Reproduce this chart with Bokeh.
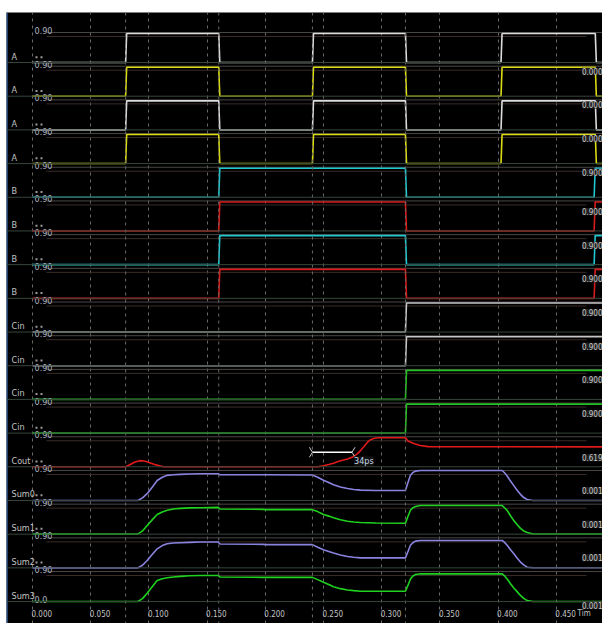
import numpy as np
from bokeh.plotting import figure
from bokeh.models import Range1d, Span, FixedTicker, Grid
from bokeh.core.properties import value
from bokeh.embed import file_html
from bokeh.resources import INLINE

# ---------------- data ----------------
row_names = ["A", "A", "A", "A", "B", "B", "B", "B",
             "Cin", "Cin", "Cin", "Cin", "Cout", "Sum0", "Sum1", "Sum2", "Sum3"]
row_colors = ["#dcdcdc", "#dcdc12", "#dcdcdc", "#dcdc12",
              "#20c8d0", "#d81c1c", "#20c8d0", "#d81c1c",
              "#c6c6c6", "#c6c6c6", "#22c022", "#22c022",
              "#e01a1a", "#8a84e0", "#1ed21e", "#8a84e0", "#1ed21e"]

v_high = 0.9
# digital stimulus toggle times (ns); every input starts at 0 V
a_edges = [0.080, 0.160, 0.2405, 0.3204, 0.4025, 0.4835]
b_edges = [0.160, 0.3204, 0.4825]
cin_edges = [0.3204]

# carry out
cout_t = [0.000, 0.080, 0.084, 0.088, 0.092, 0.096, 0.100, 0.105, 0.110, 0.113,
          0.245, 0.250, 0.2545, 0.2586, 0.263, 0.2706, 0.275, 0.279, 0.282,
          0.285, 0.288, 0.2905, 0.293, 0.297, 0.3204, 0.3225, 0.327, 0.333,
          0.340, 0.490]
cout_v = [0.000, 0.000, 0.07, 0.15, 0.19, 0.18, 0.13, 0.07, 0.02, 0.000,
          0.000, 0.03, 0.07, 0.11, 0.17, 0.24, 0.30, 0.40, 0.51,
          0.64, 0.77, 0.84, 0.88, 0.90, 0.90, 0.80, 0.73, 0.66,
          0.625, 0.619]

# sum outputs share one time base
sum_t = [0.000, 0.0905, 0.0945, 0.0985, 0.1030, 0.1071, 0.1115, 0.1157, 0.1210,
         0.1271, 0.1350, 0.1443, 0.1595, 0.1610, 0.1985, 0.2000, 0.2405, 0.2450,
         0.2500, 0.2545, 0.2586, 0.2645, 0.2706, 0.2760, 0.2818, 0.2950, 0.3204,
         0.3225, 0.3247, 0.3268, 0.3290, 0.3333, 0.4035, 0.4055, 0.4078, 0.4105,
         0.4135, 0.4165, 0.4192, 0.4220, 0.4250, 0.4300, 0.4900]
sum0_v = [0, 0, 0.08, 0.21, 0.42, 0.62, 0.72, 0.78, 0.80,
          0.81, 0.82, 0.83, 0.83, 0.80, 0.80, 0.80, 0.79, 0.72,
          0.63, 0.56, 0.49, 0.42, 0.37, 0.34, 0.32, 0.31, 0.31,
          0.55, 0.78, 0.87, 0.91, 0.93, 0.93, 0.86, 0.76, 0.61,
          0.46, 0.31, 0.19, 0.09, 0.03, 0.001, 0.001]
sum1_v = [0, 0, 0.10, 0.27, 0.45, 0.61, 0.69, 0.74, 0.78,
          0.80, 0.815, 0.82, 0.83, 0.78, 0.77, 0.76, 0.76, 0.70,
          0.61, 0.56, 0.51, 0.45, 0.40, 0.375, 0.36, 0.345, 0.34,
          0.55, 0.74, 0.82, 0.86, 0.89, 0.89, 0.82, 0.74, 0.58,
          0.42, 0.29, 0.18, 0.10, 0.05, 0.001, 0.001]
sum2_v = [0, 0, 0.08, 0.23, 0.42, 0.59, 0.69, 0.75, 0.77,
          0.78, 0.79, 0.80, 0.80, 0.74, 0.73, 0.72, 0.72, 0.64,
          0.56, 0.51, 0.46, 0.40, 0.35, 0.33, 0.31, 0.31, 0.31,
          0.50, 0.70, 0.78, 0.83, 0.85, 0.85, 0.79, 0.70, 0.57,
          0.44, 0.30, 0.18, 0.09, 0.02, 0.001, 0.001]
sum3_v = [0, 0, 0.09, 0.26, 0.47, 0.65, 0.71, 0.74, 0.76,
          0.78, 0.80, 0.81, 0.81, 0.76, 0.75, 0.75, 0.75, 0.68,
          0.60, 0.53, 0.46, 0.40, 0.36, 0.34, 0.32, 0.32, 0.32,
          0.50, 0.70, 0.79, 0.84, 0.86, 0.86, 0.80, 0.70, 0.56,
          0.42, 0.30, 0.19, 0.10, 0.03, 0.001, 0.001]

# delay measurement on Cout (ns)
meas_start, meas_len = 0.2405, 0.034
meas_label = "34ps"

x_ticks = [0.000, 0.050, 0.100, 0.150, 0.200, 0.250, 0.300, 0.350, 0.400, 0.450]
x_tick_labels = ["0.000", "0.050", "0.100", "0.150", "0.200",
                 "0.250", "0.300", "0.350", "0.400", "0.450"]
cursor_times = [0.080, 0.160, 0.2405, 0.3204]
t_end = 0.490

# ---------------- layout constants ----------------
W, H = 602, 623
LEFT, TOP = 6, 12
PX_T0 = 32.0            # screen x of t = 0
PX_PER_NS = 1164.0
ROW0_PX = 62.0          # screen y of first baseline
ROW_PITCH_PX = 33.69
VOLT_PX = 29.0 / 0.9    # screen px per volt
ROW = ROW_PITCH_PX / VOLT_PX


def dx(px):
    return px / PX_PER_NS


def dy(px):
    return px / VOLT_PX


def step_wave(edges, t_stop, high=v_high, rise=0.0009):
    t, v, level = [0.0], [0.0], 0.0
    for e in edges:
        t += [e, e + rise]
        v += [level, high - level]
        level = high - level
    t.append(t_stop)
    v.append(level)
    return t, v


traces = ([step_wave(a_edges, t_end) for _ in range(4)]
          + [step_wave(b_edges, t_end) for _ in range(4)]
          + [step_wave(cin_edges, t_end) for _ in range(4)]
          + [(cout_t, cout_v), (sum_t, sum0_v), (sum_t, sum1_v),
             (sum_t, sum2_v), (sum_t, sum3_v)])

x0 = (LEFT - PX_T0) / PX_PER_NS
x1 = (W - PX_T0) / PX_PER_NS
p = figure(width=W, height=H,
           x_range=Range1d(x0, x1),
           y_range=Range1d(-(H - ROW0_PX) / VOLT_PX, (ROW0_PX - TOP) / VOLT_PX),
           min_border_left=LEFT, min_border_top=TOP, min_border_right=0,
           min_border_bottom=0, x_axis_location=None, y_axis_location=None,
           toolbar_location=None, output_backend="svg",
           background_fill_color="black", border_fill_color="white",
           outline_line_color=None)
p.grid.visible = False

grid_style = dict(line_color="#6a6a6a", line_dash="3 4", line_width=1)
p.add_layout(Grid(dimension=0, ticker=FixedTicker(ticks=x_ticks),
                  grid_line_color="#6a6a6a", grid_line_dash="3 4"))
for c in cursor_times:
    p.add_layout(Span(location=c, dimension="height", **grid_style))

# left window edge
p.add_layout(Span(location=0.5, location_units="screen", dimension="height",
                  line_color="#2a5a9a", line_width=1.5))

FONT = value("DejaVu Sans Condensed, Liberation Sans, sans-serif")
FS = "9px"
n = len(row_names)
bases = [-k * ROW for k in range(n)]

# row baselines and high-level references
for k, b in enumerate(bases):
    p.add_layout(Span(location=b, dimension="width", line_color="#36463a", line_width=1))
p.segment(x0=[dx(46 - PX_T0)] * n, x1=[x1] * n,
          y0=[b + v_high + dy(1) for b in bases], y1=[b + v_high + dy(1) for b in bases],
          line_color="#4a4646", line_width=1)
p.segment(x0=[dx(46 - PX_T0)] * n, x1=[dx(586 - PX_T0)] * n,
          y0=[b + dy(26) for b in bases], y1=[b + dy(26) for b in bases],
          line_color="#3a2c28", line_width=1)

# waveforms
for k, ((t, v), col) in enumerate(zip(traces, row_colors)):
    p.line(x=t, y=[bases[k] + vv for vv in v], line_color=col, line_width=1.6)

# delay measurement marker on Cout
cb = bases[row_names.index("Cout")]
my = cb + v_high / 2
m0, m1 = meas_start, meas_start + meas_len
p.segment(x0=[m0], x1=[m1], y0=[my], y1=[my], line_color="white", line_width=1.5)
p.multi_line(xs=[[m0 - dx(3), m0, m0 - dx(3)], [m1 + dx(3), m1, m1 + dx(3)]],
             ys=[[my + dy(5), my, my - dy(5)], [my + dy(5), my, my - dy(5)]],
             line_color="#cfcfcf", line_width=1)
p.text(x=[m1 + dx(2)], y=[my - dy(9)], text=[meas_label], text_font=FONT,
       text_font_size=FS, text_color="#c8d8e8", text_align="left",
       text_baseline="middle", background_fill_color="#111111")

# signal names
p.text(x=[dx(11 - PX_T0)] * n, y=[b + dy(6) for b in bases], text=row_names,
       text_font=FONT, text_font_size=FS, text_color="#c4c4c4",
       text_align="left", text_baseline="middle")

# scale labels at the top of every row
p.text(x=[dx(34 - PX_T0)] * n, y=[b + dy(32) for b in bases], text=["0.90"] * n,
       text_font=FONT, text_font_size=FS, text_color="#aeb4c0",
       text_align="left", text_baseline="middle")
p.text(x=[dx(34 - PX_T0)], y=[bases[-1] + dy(2)], text=["0.0"],
       text_font=FONT, text_font_size=FS, text_color="#aeb4c0",
       text_align="left", text_baseline="middle")
dots_x = [dx(36 - PX_T0), dx(41 - PX_T0)] * (n - 1)
dots_y = [b + dy(39) for b in bases[1:] for _ in range(2)]
p.rect(x=dots_x, y=dots_y, width=2, height=2, width_units="screen",
       height_units="screen", fill_color="#9a9a9a", line_color=None)

# time axis labels
ty = bases[-1] - dy(12)
p.text(x=[t - dx(1) for t in x_ticks], y=[ty] * len(x_ticks), text=x_tick_labels,
       text_font=FONT, text_font_size="8px", text_color="#c4c4c4",
       text_align="left", text_baseline="middle")

# end-of-window values
right_off = [25] * 5 + [19.5] * 7 + [9] + [10] * 3 + [-4]
end_vals = ["%.3f" % v[-1] for (_, v) in traces]
p.text(x=[x1] * (n - 1), y=[bases[k] + dy(right_off[k]) for k in range(1, n)],
       text=end_vals[1:], text_font=FONT, text_font_size="8px",
       text_color="#c8c8c8", text_align="right", text_baseline="middle",
       background_fill_color="#202020")

p.text(x=[dx(577 - PX_T0)], y=[ty], text=["Tim"], text_font=FONT,
       text_font_size="8px", text_color="#c4c4c4", text_align="left",
       text_baseline="middle")

open("out.html", "w").write(file_html(p, INLINE))
